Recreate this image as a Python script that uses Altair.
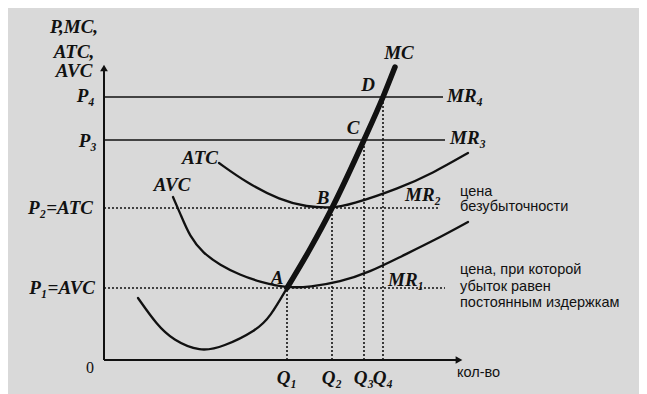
import altair as alt
import pandas as pd

# Coordinates: x = quantity, y = price/cost (arbitrary units)
P = [7.2, 15.2, 22.0, 26.3]          # P1..P4
Q = [18.3, 22.8, 26.0, 27.9]         # Q1..Q4
P_END = [34.1, 33.6, 34.1, 33.9]     # where MR lines stop
P_DASHED = [True, True, False, False]

mc_thin_x = [3.4, 5.3, 6.9, 9.6, 11.9, 15.3, 16.6, 18.3]
mc_thin_y = [6.2, 3.5, 2.0, 0.8, 1.3, 3.0, 4.3, 7.2]
mc_thick_x = [18.3, 20.6, 22.8, 26.0, 27.9, 29.1]
mc_thick_y = [7.2, 11.1, 15.2, 22.0, 26.3, 29.3]

atc_x = [11.5, 14.3, 17.6, 20.3, 22.8, 24.6, 29.6, 32.9, 36.4]
atc_y = [19.7, 17.7, 16.0, 15.3, 15.2, 15.5, 17.2, 18.7, 20.7]

avc_x = [6.9, 7.6, 8.6, 9.9, 11.6, 13.6, 15.6, 18.3, 20.6, 23.6, 26.6, 29.6, 33.1, 36.4]
avc_y = [16.3, 14.7, 12.3, 10.7, 9.5, 8.5, 7.8, 7.2, 7.3, 7.8, 8.8, 10.3, 12.0, 13.8]

X_MAX, Y_MAX = 35.5, 29.2

BG = "#d9d9d9"
INK = "#111111"
SERIF = "Liberation Serif, Times New Roman, serif"
SANS = "Liberation Sans, Arial, sans-serif"

xs = alt.Scale(domain=[-9.6, 53.5], nice=False, zero=False)
ys = alt.Scale(domain=[-3.4, 35.2], nice=False, zero=False)


def X(f="x"):
    return alt.X(f"{f}:Q", scale=xs, axis=None)


def Y(f="y"):
    return alt.Y(f"{f}:Q", scale=ys, axis=None)


def curve(xv, yv, width, interp="basis"):
    df = pd.DataFrame({"x": xv, "y": yv})
    return alt.Chart(df).mark_line(color=INK, strokeWidth=width, interpolate=interp,
                                   strokeCap="round").encode(x=X(), y=Y())


layers = []

# axes
axes_df = pd.DataFrame({"x": [0, 0], "y": [0, 0], "x2": [0, X_MAX], "y2": [Y_MAX, 0]})
layers.append(alt.Chart(axes_df).mark_rule(color=INK, strokeWidth=2).encode(
    x=X(), y=Y(), x2="x2:Q", y2="y2:Q"))
layers.append(alt.Chart(pd.DataFrame({"x": [0], "y": [Y_MAX]})).mark_point(
    shape="triangle-up", filled=True, size=60, color=INK, opacity=1).encode(x=X(), y=Y()))
layers.append(alt.Chart(pd.DataFrame({"x": [X_MAX], "y": [0]})).mark_point(
    shape="triangle-right", filled=True, size=60, color=INK, opacity=1).encode(x=X(), y=Y()))

# horizontal price lines
for p, e, d in zip(P, P_END, P_DASHED):
    df = pd.DataFrame({"x": [0], "x2": [e], "y": [p]})
    kw = dict(color=INK, strokeWidth=1.6)
    if d:
        kw["strokeDash"] = [2, 2]
    layers.append(alt.Chart(df).mark_rule(**kw).encode(x=X(), x2="x2:Q", y=Y()))

# vertical dotted lines
vdf = pd.DataFrame({"x": Q, "y": [0] * 4, "y2": P})
layers.append(alt.Chart(vdf).mark_rule(color=INK, strokeWidth=1.6, strokeDash=[2, 2]).encode(
    x=X(), y=Y(), y2="y2:Q"))

# curves
layers.append(curve(atc_x, atc_y, 2.3))
layers.append(curve(avc_x, avc_y, 2.3))
layers.append(curve(mc_thin_x, mc_thin_y, 2.3))
layers.append(curve(mc_thick_x, mc_thick_y, 5.5, "monotone"))

# labels
def texts(rows, align, font, size, weight="bold", style="italic"):
    df = pd.DataFrame(rows, columns=["x", "y", "t"])
    return alt.Chart(df).mark_text(align=align, baseline="middle", font=font, fontSize=size,
                                   fontWeight=weight, fontStyle=style, color=INK).encode(
        x=X(), y=Y(), text="t:N")

center_labels = [
    (-3.0, 33.3, "P,MC,"), (-3.0, 30.8, "ATC,"), (-3.0, 28.9, "AVC"),
    (Q[0], -1.8, "Q₁"), (Q[1], -1.8, "Q₂"), (Q[2], -1.8, "Q₃"), (Q[3], -1.8, "Q₄"),
    (29.5, 30.7, "MC"), (26.4, 27.5, "D"), (24.9, 23.2, "C"), (21.9, 16.2, "B"),
    (17.3, 8.2, "A"), (9.6, 20.2, "ATC"), (6.8, 17.5, "AVC"),
]
right_labels = [
    (-0.9, 26.4, "P₄"), (-0.7, 21.9, "P₃"), (-1.1, 15.2, "P₂=ATC"), (-0.9, 7.2, "P₁=AVC"),
]
left_labels = [
    (34.3, 26.4, "MR₄"), (34.6, 22.2, "MR₃"), (30.1, 16.5, "MR₂"), (28.4, 8.0, "MR₁"),
]
zero_label = [(-1.4, -0.8, "0")]
ru_labels = [
    (35.6, 16.8, "цена"), (35.6, 15.3, "безубыточности"),
    (35.6, 9.0, "цена, при которой"), (35.6, 7.3, "убыток равен"),
    (35.6, 5.7, "постоянным издержкам"), (35.3, -1.3, "кол-во"),
]

layers.append(texts(center_labels, "center", SERIF, 19))
layers.append(texts(right_labels, "right", SERIF, 19))
layers.append(texts(left_labels, "left", SERIF, 19))
layers.append(texts(zero_label, "center", SERIF, 16, weight="normal", style="normal"))
layers.append(texts(ru_labels, "left", SANS, 14.5, weight="normal", style="normal"))

chart = alt.layer(*layers).properties(
    width=631, height=386, autosize=alt.AutoSizeParams(type="none"), padding=0,
    background=BG,
).configure_view(stroke=None)

chart.save("out.html", embed_options={"renderer": "svg", "actions": False})
